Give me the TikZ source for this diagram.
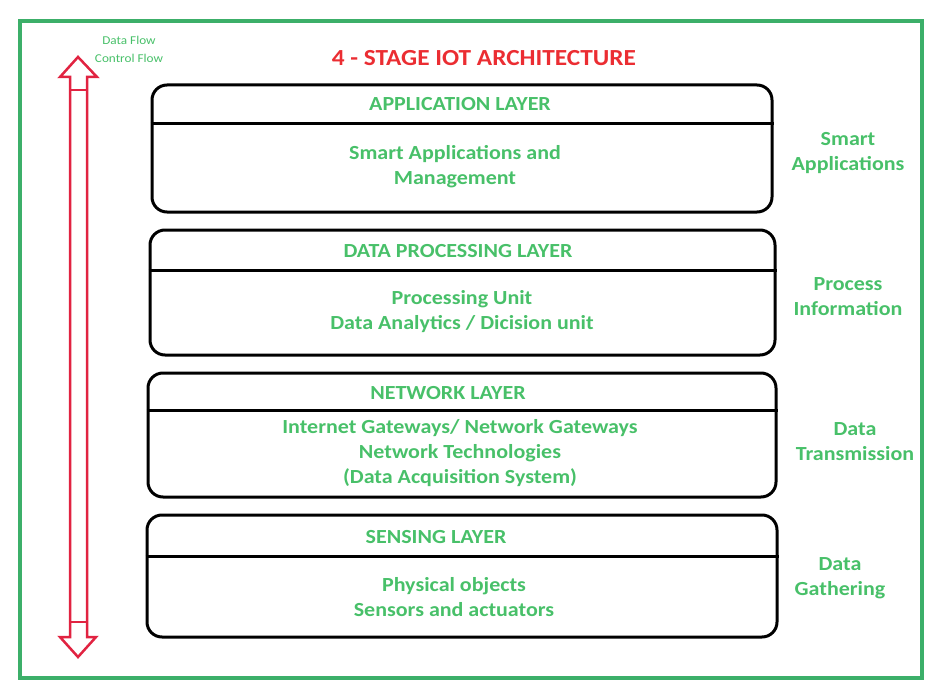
\documentclass[tikz,border=0pt]{standalone}
\usepackage{fontspec}
\setmainfont{Carlito}[FakeStretch=1.1]
\definecolor{framegreen}{RGB}{60,175,105}
\definecolor{textgreen}{RGB}{72,192,105}
\definecolor{arrowred}{RGB}{225,35,65}
\definecolor{titlered}{RGB}{235,45,50}
\begin{document}
\begin{tikzpicture}[x=1pt,y=-1pt,
    layerbox/.style={draw=black, line width=3pt, rounded corners=15pt, inner sep=0pt},
    laytext/.style={text=textgreen, font=\fontsize{20}{25}\selectfont\bfseries, align=center},
    sidelabel/.style={text=textgreen, font=\fontsize{20}{25}\selectfont\bfseries, align=center}]
  \useasboundingbox (0,0) rectangle (926,682);
  \draw[framegreen, line width=4pt] (20,21) rectangle (922,678);

  % up/down flow arrow
  \draw[arrowred, line width=2.5pt] (78,57) -- (97,77) -- (87,77) -- (87,637) -- (96,637)
        -- (78,657) -- (60,637) -- (70,637) -- (70,77) -- (60,77) -- cycle;
  \draw[arrowred, line width=2.5pt] (70,90) -- (87,90);
  \draw[arrowred, line width=2.5pt] (70,622) -- (87,622);
  \node[text=textgreen, font=\fontsize{12}{14}\selectfont] (dataflow) at (129,40) {Data Flow};
  \node[text=textgreen, font=\fontsize{12}{14}\selectfont] (ctrlflow) at (129,58) {Control Flow};

  \node[text=titlered, font=\fontsize{23}{27}\selectfont\bfseries] (title) at (484,58) {4 - STAGE IOT ARCHITECTURE};

  % layer boxes
  \foreach \n/\x/\y/\w/\h/\d in {app/462/148.5/620/127/40, proc/462.5/292.5/625/125/42,
                                net/462/435/628/124/39, sens/462/576/630/122/43} {
      \node[layerbox, minimum width=\w pt, minimum height=\h pt] (\n) at (\x,\y) {};
      \draw[black, line width=3pt] ([yshift=-\d pt]\n.north west) -- ([yshift=-\d pt]\n.north east);
  }

  \node[laytext] (apphead) at (460,104) {APPLICATION LAYER};
  \node[laytext] (appbody) at (455,167) {Smart Applications and\\Management};
  \node[laytext] (prochead) at (458,251) {DATA PROCESSING LAYER};
  \node[laytext] (procbody) at (462,312) {Processing Unit\\Data Analytics / Dicision unit};
  \node[laytext] (nethead) at (448,393) {NETWORK LAYER};
  \node[laytext] (netbody) at (460,453) {Internet Gateways/ Network Gateways\\Network Technologies\\(Data Acquisition System)};
  \node[laytext] (senshead) at (436,537) {SENSING LAYER};
  \node[laytext] (sensbody) at (454,597) {Physical objects\\Sensors and actuators};

  \node[sidelabel] (smart) at (848,153) {Smart\\Applications};
  \node[sidelabel] (procinfo) at (848,297) {Process\\Information};
  \node[sidelabel] (datatrans) at (855,442) {Data\\Transmission};
  \node[sidelabel] (datagath) at (840,578) {Data\\Gathering};
\end{tikzpicture}
\end{document}
